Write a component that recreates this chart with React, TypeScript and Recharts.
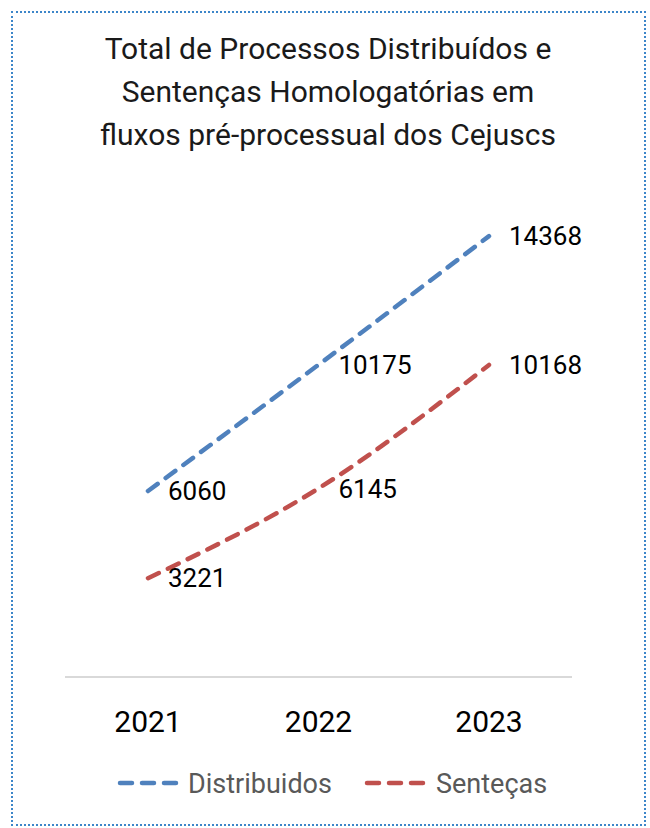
import { LineChart, Line, XAxis, YAxis, LabelList } from "recharts";

const years = ["2021", "2022", "2023"];
const distribuidos = [6060, 10175, 14368];
const sentencas = [3221, 6145, 10168];

const data = years.map((year, i) => ({
  year,
  Distribuidos: distribuidos[i],
  "Senteças": sentencas[i],
}));

const FONT = "Roboto, 'Open Sans', sans-serif";

const YearTick = (props: any) => {
  const { x, y, payload } = props;
  return (
    <text x={x} y={y + 47} textAnchor="middle" fontSize={30} fill="#000" fontFamily={FONT}>
      {payload.value}
    </text>
  );
};

const LegendBox = () => (
  <svg width={650} height={40}>
    <line x1={120} y1={20} x2={176} y2={20} stroke="#4F81BD" strokeWidth={4.5} strokeDasharray="12 10" strokeLinecap="round" />
    <text x={188} y={30} fontSize={27} fill="#595959" fontFamily={FONT}>Distribuidos</text>
    <line x1={367} y1={20} x2={423} y2={20} stroke="#C0504D" strokeWidth={4.5} strokeDasharray="12 10" strokeLinecap="round" />
    <text x={436} y={30} fontSize={27} fill="#595959" fontFamily={FONT}>Senteças</text>
  </svg>
);

export default function App() {
  return (
    <div style={{ position: "absolute", left: 0, top: 0, width: 650, height: 828, background: "#fff", fontFamily: FONT }}>
      <div
        style={{
          position: "absolute",
          left: 11,
          top: 11,
          width: 631,
          height: 811,
          border: "2px dotted #3d86c9",
        }}
      />
      <div
        style={{
          position: "absolute",
          left: 0,
          top: 27,
          width: 656,
          textAlign: "center",
          fontSize: 30,
          lineHeight: "43px",
          color: "#1a1a1a",
        }}
      >
        Total de Processos Distribuídos e<br />
        Sentenças Homologatórias em<br />
        fluxos pré-processual dos Cejuscs
      </div>
      <div style={{ position: "absolute", left: 0, top: 0 }}>
        <LineChart width={650} height={828} data={data} margin={{ top: 186, right: 78, bottom: 121, left: 65 }}>
          <XAxis
            dataKey="year"
            padding={{ left: 83, right: 83 }}
            tickLine={false}
            axisLine={{ stroke: "#d9d9d9", strokeWidth: 2 }}
            tick={<YearTick />}
            interval={0}
          />
          <YAxis hide domain={[0, 16000]} />
          <Line
            type="monotone"
            dataKey="Distribuidos"
            stroke="#4F81BD"
            strokeWidth={4.5}
            strokeDasharray="12 10"
            strokeLinecap="round"
            dot={false}
            isAnimationActive={false}
          >
            <LabelList dataKey="Distribuidos" position="right" offset={20} fontSize={26} fill="#000" fontFamily={FONT} />
          </Line>
          <Line
            type="monotone"
            dataKey="Senteças"
            stroke="#C0504D"
            strokeWidth={4.5}
            strokeDasharray="12 10"
            strokeLinecap="round"
            dot={false}
            isAnimationActive={false}
          >
            <LabelList dataKey="Senteças" position="right" offset={20} fontSize={26} fill="#000" fontFamily={FONT} />
          </Line>
        </LineChart>
      </div>
      <div style={{ position: "absolute", left: 0, top: 763 }}>
        <LegendBox />
      </div>
    </div>
  );
}
